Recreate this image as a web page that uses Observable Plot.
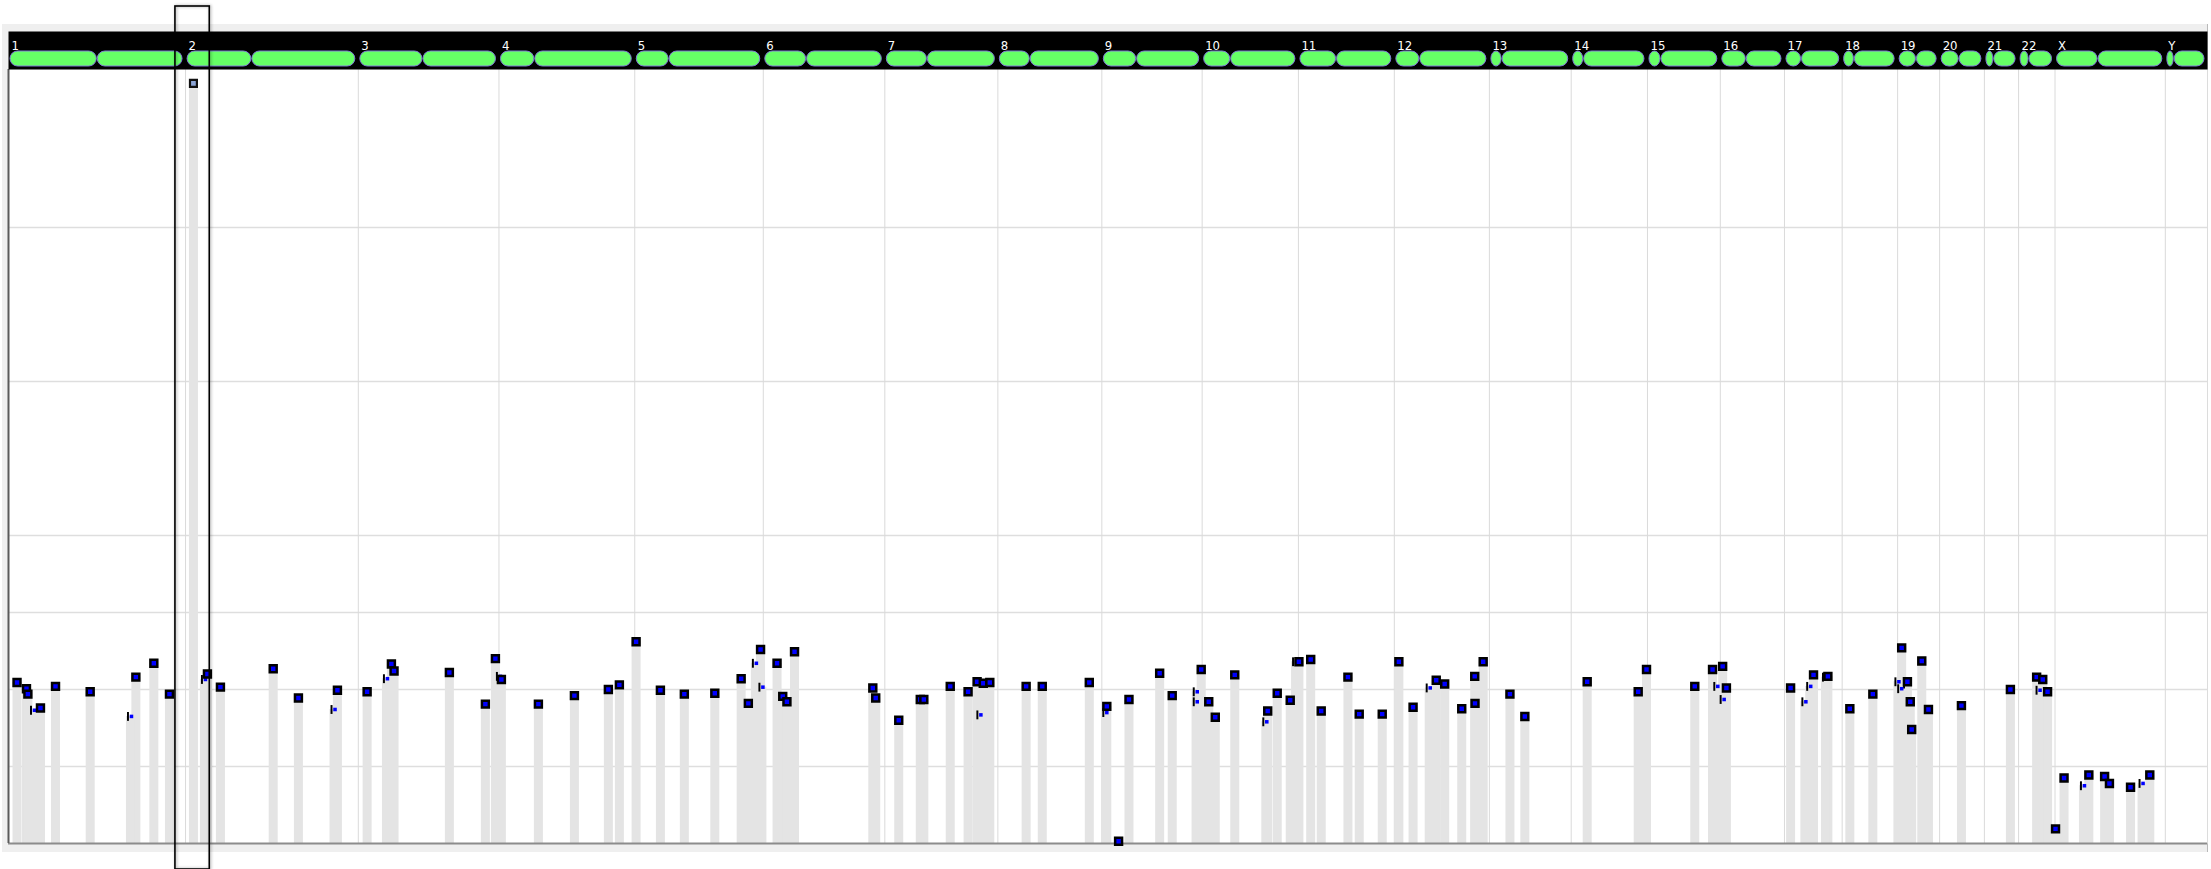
<!DOCTYPE html>
<html>
<head>
<meta charset="utf-8">
<script src="https://cdn.jsdelivr.net/npm/d3@7"></script>
<script src="https://cdn.jsdelivr.net/npm/@observablehq/plot@0.6"></script>
<style>
html, body { margin: 0; padding: 0; background: #ffffff; }
#wrap { position: relative; width: 2211px; height: 869px; overflow: hidden; }
#wrap svg { position: absolute; left: 0; top: 0; }
#panel { position: absolute; left: 2px; top: 24px; width: 2205px; height: 828px; background: #efefef; border-right: 1px solid #b9b9b9; }
</style>
</head>
<body>
<div id="wrap"><div id="panel"></div></div>
<script>
// ---- chromosomes (hg19, Mb) ----
const chromNames   = ["1","2","3","4","5","6","7","8","9","10","11","12","13","14","15","16","17","18","19","20","21","22","X","Y"];
const chromLengths = [249.25,243.20,198.02,191.15,180.92,171.12,159.14,146.36,141.21,135.53,135.01,133.85,115.17,107.35,102.53,90.35,81.20,78.08,59.13,63.03,48.13,51.30,155.27,59.37];
const centromeres  = [125.0,93.3,91.0,50.4,48.4,61.0,59.9,45.6,49.0,40.2,53.7,35.8,17.9,17.6,19.0,36.6,24.0,17.2,26.5,27.5,13.2,14.7,60.6,12.5];

// ---- full markers: chromosome, position (Mb), copy number ----
const fullChrom = ["1","1","1","1","1","1","1","1","1",
  "2","2","2","2","2",
  "3","3","3","3","3","3",
  "4","4","4","4","4",
  "5","5","5","5","5","5","5",
  "6","6","6","6","6","6",
  "7","7","7","7","7","7","7","7",
  "8","8","8",
  "9","9","9","9","9","9",
  "10","10","10","10","10","10",
  "11","11","11","11","11","11",
  "12","12","12","12","12","12","12","12",
  "13","13",
  "14","14","14",
  "15","15",
  "16","16",
  "17","17","17",
  "18","18",
  "19","19","19","19","19","19",
  "20","21",
  "22","22","22",
  "X","X","X","X","X","X","X"];
const fullPos = [12.0,25.3,27.3,45.0,66.2,115.0,179.3,204.6,226.6,
  30.8,49.1,123.4,158.9,213.8,
  12.4,46.6,50.3,128.2,178.9,193.0,
  3.4,55.5,106.2,154.0,169.5,
  1.9,36.1,69.8,112.7,149.8,159.9,177.1,
  19.4,27.4,33.3,44.0,154.2,158.3,
  19.6,49.9,54.9,92.1,117.2,129.9,138.6,147.8,
  39.8,62.5,128.7,
  7.0,23.6,38.2,81.4,99.1,139.9,
  9.3,18.5,45.9,92.3,105.7,124.0,
  0.7,17.3,32.1,69.7,85.6,118.0,
  6.4,26.4,59.0,70.9,94.9,113.2,113.6,125.1,
  28.9,49.9,
  22.5,94.3,106.0,
  66.6,91.6,
  3.3,8.6,
  8.6,40.9,61.1,
  10.8,43.2,
  5.7,13.8,17.8,19.8,34.0,43.4,
  30.7,36.6,
  25.4,34.0,40.8,
  0.7,12.7,47.6,69.8,76.6,106.3,133.4];
const fullCN = [2.09,2.01,1.94,1.76,2.04,1.97,2.16,2.34,1.94,
  2.20,2.03,2.27,1.89,1.99,
  1.97,2.33,2.24,2.22,1.81,2.40,
  2.13,1.81,1.92,2.00,2.06,
  2.62,1.99,1.94,1.95,2.14,1.82,2.52,
  2.34,1.91,1.84,2.49,2.02,1.89,
  1.60,1.87,1.87,2.04,1.97,2.10,2.08,2.09,
  2.04,2.04,2.09,
  1.78,0.03,1.87,2.21,1.92,2.26,
  1.84,1.64,2.19,1.72,1.95,1.86,
  2.36,2.39,1.72,2.16,1.68,1.68,
  2.36,1.77,2.12,2.07,1.75,2.17,1.82,2.36,
  1.94,1.65,
  2.10,1.97,2.26,
  2.04,2.26,
  2.30,2.02,
  2.02,2.19,2.17,
  1.75,1.94,
  2.54,2.10,1.84,1.48,2.37,1.74,
  1.79,2.00,
  2.16,2.13,1.97,
  0.19,0.85,0.89,0.87,0.78,0.73,0.89];

// ---- partly hidden markers ----
const partChrom = ["1","1","2","2","3","4","5","5","7","9","9","9","10","10","12","15","16","17","17","17","19","19","19","22","X","X"];
const partPos   = [35.2,171.7,26.6,209.0,39.6,0.6,169.8,179.0,133.8,5.6,132.9,132.9,89.6,131.5,49.1,97.6,4.0,28.7,35.5,57.7,0.4,4.3,12.5,28.8,40.0,122.5];
const partCN    = [1.73,1.65,2.13,1.74,2.14,2.17,2.34,2.03,1.67,1.70,1.97,1.84,1.58,2.36,2.02,2.04,1.87,1.84,2.04,2.16,2.10,2.01,2.07,1.99,0.75,0.78];

// ---- selected marker and selection window ----
const selectedChrom = ["2"];
const selectedPos = [11.1];
const selectedCN = [9.87];
const selectionChrom = ["1", "2"];
const selectionPos = [235.0, 34.1];

// ---- y grid values ----
const gridCN = [1, 2, 3, 4, 6, 8];
const yMax = 10.05;

// ---- build tables ----
const offsets = new Map();
let acc = 0;
chromNames.forEach((c, i) => { offsets.set(c, acc); acc += chromLengths[i]; });
const genomeLength = acc;
const chroms = chromNames.map((c, i) => ({
  name: c, start: offsets.get(c), end: offsets.get(c) + chromLengths[i], cen: offsets.get(c) + centromeres[i]
}));
const rows = (cs, ps, vs) => cs.map((c, i) => ({g: offsets.get(c) + ps[i], v: vs[i]}));
const fulls = rows(fullChrom, fullPos, fullCN);
const parts = rows(partChrom, partPos, partCN);
const selected = rows(selectedChrom, selectedPos, selectedCN);
const selection = [{from: offsets.get(selectionChrom[0]) + selectionPos[0], to: offsets.get(selectionChrom[1]) + selectionPos[1]}];

const barSymbol = {
  draw(context, size) {
    const h = Math.sqrt(size), w = h / 4.5;
    context.moveTo(-w / 2, -h / 2);
    context.lineTo(w / 2, -h / 2);
    context.lineTo(w / 2, h / 2);
    context.lineTo(-w / 2, h / 2);
    context.closePath();
  }
};

const W = 2211, H = 869;
const common = {
  width: W, height: H, marginLeft: 8, marginRight: 4,
  x: {domain: [0, genomeLength], axis: null},
  style: {background: "transparent", overflow: "visible"}
};

const mainPlot = Plot.plot({
  ...common,
  marginTop: 69, marginBottom: 26,
  y: {domain: [0, yMax], axis: null},
  marks: [
    Plot.frame({fill: "white", stroke: null}),
    Plot.ruleY(gridCN, {stroke: "#dedede", strokeWidth: 1.5}),
    Plot.ruleX(chroms, {x: "start", stroke: "#dadada", strokeWidth: 1}),
    Plot.ruleX([...fulls, ...parts, ...selected], {x: "g", y: "v", stroke: "#e4e4e4", strokeWidth: 9}),
    Plot.ruleY([0], {stroke: "#8c8c8c", strokeWidth: 2}),
    Plot.ruleX([0], {stroke: "#5a5a5a", strokeWidth: 2}),
    Plot.dot(parts, {x: "g", y: "v", symbol: barSymbol, r: 5, fill: "black", stroke: null, dx: -2.5}),
    Plot.dot(parts, {x: "g", y: "v", symbol: "square", r: 2, fill: "#0000ff", stroke: null, dx: 1}),
    Plot.dot(fulls, {x: "g", y: "v", symbol: "square", r: 3.9, fill: "#0000ff", stroke: "black", strokeWidth: 2.5}),
    Plot.dot(selected, {x: "g", y: "v", symbol: "square", r: 3.9, fill: "#8ca5d6", stroke: "#111", strokeWidth: 2.2})
  ]
});

const headerPlot = Plot.plot({
  ...common,
  marginTop: 31, marginBottom: H - 69,
  marks: [
    Plot.frame({fill: "black", stroke: null}),
    Plot.barX(chroms, {x1: "start", x2: "cen", insetLeft: 2, insetRight: 0.5, insetTop: 20, insetBottom: 3, rx: 7.5, fill: "#66ff66", stroke: "#8078d8", strokeWidth: 1}),
    Plot.barX(chroms, {x1: "cen", x2: "end", insetLeft: 0.5, insetRight: 3, insetTop: 20, insetBottom: 3, rx: 7.5, fill: "#66ff66", stroke: "#8078d8", strokeWidth: 1}),
    Plot.text(chroms, {x: "start", text: "name", frameAnchor: "top", dy: 9, dx: 3, textAnchor: "start", fill: "white", fontSize: 13, fontFamily: "'Liberation Sans Narrow', 'DejaVu Sans Condensed', 'Arial Narrow', sans-serif"})
  ]
});

const overlayPlot = Plot.plot({
  ...common,
  marginTop: 6, marginBottom: 0,
  marks: [
    Plot.barX(selection, {x1: "from", x2: "to", fill: "none", stroke: "black", strokeWidth: 1.6})
  ]
});
overlayPlot.style.filter = "drop-shadow(1px 0px 1.5px rgba(0,0,0,0.35))";

const wrap = document.getElementById("wrap");
wrap.appendChild(mainPlot);
wrap.appendChild(headerPlot);
wrap.appendChild(overlayPlot);
</script>
</body>
</html>
